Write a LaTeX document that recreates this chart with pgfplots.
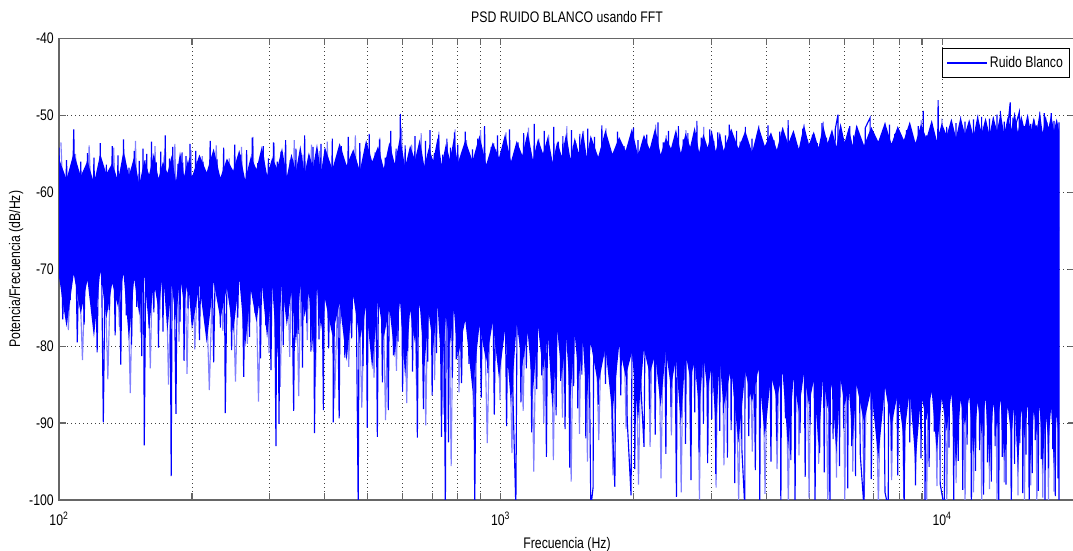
\documentclass[border=0pt]{standalone}
\usepackage{fontspec}
\setmainfont{Liberation Sans}[FakeStretch=0.8]
\usepackage{pgfplots}
\pgfplotsset{compat=1.18}
\definecolor{mblue}{rgb}{0,0,1}
\definecolor{mlight}{rgb}{0.5,0.5,1}
\definecolor{mgray}{rgb}{0.4,0.4,0.4}
\newcommand\mfont{\fontsize{11.5pt}{13pt}\selectfont}
\begin{document}
\begin{tikzpicture}
\begin{axis}[
  name=ax,
  scale only axis, width=762pt, height=346.1pt,
  xmode=log, xmin=100, xmax=20000, ymin=-100, ymax=-40,
  xtick={100,1000,10000},
  xticklabels={10\textsuperscript{2},10\textsuperscript{3},10\textsuperscript{4}},
  minor xtick={200,300,400,500,600,700,800,900,2000,3000,4000,5000,6000,7000,8000,9000},
  ytick={-100,-90,-80,-70,-60,-50,-40},
  yticklabels={-100,-90,-80,-70,-60,-50,-40},
  grid=both,
  major grid style={draw=black!75, line width=0.6pt, dash pattern=on 0.75pt off 2.25pt},
  minor grid style={draw=black!75, line width=0.6pt, dash pattern=on 0.75pt off 2.25pt},
  axis line style={draw=mgray, line width=0.9pt},
  tick style={draw=mgray, line width=0.9pt},
  major tick length=5pt, minor tick length=5pt,
  tick align=inside,
  tick label style={font=\mfont},
  xticklabel style={anchor=north, inner sep=0pt, yshift=-9pt},
  yticklabel style={anchor=east, inner sep=0pt, xshift=-3.75pt},
  label style={font=\mfont},
  title style={font=\mfont, at={(axis description cs:0.5,1.0466)}, anchor=center, yshift=-6pt},
  xlabel style={at={(axis description cs:0.5,-0.0955)}, anchor=center},
  ylabel style={at={(axis description cs:-0.0423,0.5)}, anchor=center},
  title={PSD RUIDO BLANCO usando FFT},
  xlabel={Frecuencia (Hz)},
  ylabel={Potencia/Frecuencia (dB/Hz)},
  legend style={at={(axis description cs:1,1)}, anchor=north east,
    xshift=-3.75pt, yshift=-7.1pt, draw=black, line width=0.6pt,
    fill=white, font=\mfont, inner xsep=3pt, inner ysep=4pt},
  legend image code/.code={\draw[#1] (0pt,0pt) -- (30pt,0pt);},
]

% lighter spectrum bins (anti-aliased traces)
\addplot[color=mlight, line width=0.85pt, forget plot] coordinates {
(101,-53.5) (105,-77.9) (109,-55.0) (113,-81.8) (117,-53.9) (121,-75.2) (125,-56.0) (129,-84.3) (133,-54.2) (137,-77.5) (141,-55.4) (145,-86.1) (149,-53.3) (153,-78.2) (157,-55.8) (161,-82.9) (165,-54.0) (169,-76.6) (173,-55.2) (177,-85.0) (183,-53.7) (187,-79.4) (191,-56.1) (195,-83.6) (199,-54.5)
(203,-80.4) (211,-55.3) (219,-85.7) (227,-53.9) (235,-78.0) (243,-55.6) (251,-84.6) (259,-54.1) (267,-79.7) (275,-52.8) (283,-87.2) (291,-55.4) (299,-80.9) (307,-53.6) (317,-85.3) (325,-54.8) (333,-81.4) (341,-53.2) (349,-86.5) (357,-55.1) (365,-79.2) (373,-53.8) (381,-84.0) (389,-54.6) (397,-82.3)
(405,-53.4) (421,-86.8) (437,-54.9) (453,-82.7) (469,-52.6) (485,-88.0) (501,-54.4) (517,-84.1) (533,-52.9) (549,-89.6) (565,-54.0) (581,-83.2) (597,-51.7) (613,-87.4) (629,-53.8) (645,-85.1) (661,-52.3) (677,-90.3) (693,-54.5) (709,-84.4) (725,-52.1) (741,-88.9) (757,-53.7) (773,-95.6) (789,-51.8)
(805,-86.0) (837,-53.2) (869,-89.2) (901,-51.9) (933,-92.6) (965,-53.6) (997,-87.0) (1029,-52.2) (1061,-93.9) (1093,-53.9) (1125,-88.4) (1157,-51.6) (1189,-96.3) (1221,-53.0) (1253,-90.0) (1285,-52.5) (1317,-94.8) (1349,-53.8) (1381,-89.3) (1413,-51.4) (1445,-97.6) (1477,-53.3) (1509,-91.4) (1541,-52.0) (1573,-95.0)
(1605,-53.4) (1669,-92.2) (1733,-51.7) (1797,-96.8) (1861,-53.0) (1925,-90.8) (1989,-52.3) (2053,-98.0) (2117,-53.7) (2181,-93.1) (2245,-51.2) (2309,-97.2) (2373,-52.6) (2437,-91.6) (2501,-53.5) (2565,-99.0) (2629,-51.9) (2693,-94.3) (2757,-52.8) (2821,-100) (2885,-51.5) (2949,-92.9) (3013,-53.1) (3077,-98.4) (3141,-52.4)
(3205,-95.5) (3333,-51.8) (3461,-100) (3589,-52.9) (3717,-93.7) (3845,-51.3) (3973,-99.2) (4101,-53.0) (4229,-96.0) (4357,-51.6) (4485,-101) (4613,-52.7) (4741,-94.2) (4869,-51.1) (4997,-99.8) (5125,-52.4) (5253,-95.3) (5381,-50.8) (5509,-101) (5637,-52.2) (5765,-97.1) (5893,-51.5) (6021,-100) (6149,-52.9) (6277,-96.3)
(6405,-51.4) (6661,-99.6) (6917,-52.5) (7173,-101) (7429,-50.9) (7685,-97.4) (7941,-52.1) (8197,-101) (8453,-51.2) (8709,-96.6) (8965,-50.6) (9221,-101) (9477,-51.9) (9733,-98.2) (9989,-50.4) (10245,-101) (10501,-51.6) (10757,-97.8) (11013,-50.1) (11269,-101) (11525,-51.0) (11781,-99.0) (12037,-49.9) (12293,-101) (12549,-50.7)
(12805,-98.6) (13061,-50.2) (13317,-101) (13573,-49.8) (13829,-97.7) (14085,-50.5) (14341,-101) (14597,-49.6) (14853,-99.4) (15109,-50.3) (15365,-101) (15621,-49.9) (15877,-98.1) (16133,-50.6) (16389,-101) (16645,-49.5) (16901,-99.7) (17157,-50.2) (17413,-101) (17669,-50.0) (17925,-98.9) (18181,-50.8)
};

% dense core of the spectrum, where the bins overlap completely:
% upper half (ragged top edge down to -65 dB/Hz)
\addplot[fill=mblue, draw=none, forget plot] coordinates {
(100,-55.6) (104,-58.3) (108,-54.8) (112,-57.9) (116,-55.9) (120,-58.8) (124,-55.0) (128,-57.6) (132,-56.2) (136,-58.5) (140,-54.6) (144,-57.8) (148,-55.4) (152,-59.0) (156,-55.8) (160,-57.7) (164,-54.9) (168,-58.2) (172,-56.0) (176,-57.5) (180,-55.2) (184,-58.6) (188,-54.7) (192,-57.9) (196,-55.7)
(200,-58.0) (208,-55.1) (216,-57.4) (224,-54.3) (232,-58.1) (240,-55.6) (248,-57.2) (256,-54.5) (264,-58.4) (272,-55.3) (280,-57.0) (288,-54.0) (296,-57.8) (304,-55.5) (312,-56.9) (320,-54.2) (328,-58.0) (336,-55.0) (344,-57.3) (352,-53.9) (360,-57.6) (368,-54.8) (376,-56.8) (384,-53.7) (392,-57.5)
(400,-54.1) (416,-57.0) (432,-53.6) (448,-56.5) (464,-54.4) (480,-57.2) (496,-53.2) (512,-56.0) (528,-54.0) (544,-56.9) (560,-53.5) (576,-56.3) (592,-52.8) (608,-56.7) (624,-53.9) (640,-55.8) (656,-53.1) (672,-56.6) (688,-54.2) (704,-55.9) (720,-52.9) (736,-56.4) (752,-53.7) (768,-55.7) (784,-53.0)
(800,-56.2) (832,-53.2) (864,-55.9) (896,-52.6) (928,-56.4) (960,-53.5) (992,-55.5) (1024,-52.4) (1056,-56.0) (1088,-53.3) (1120,-55.2) (1152,-52.1) (1184,-55.8) (1216,-53.0) (1248,-55.0) (1280,-52.7) (1312,-56.1) (1344,-53.4) (1376,-55.3) (1408,-52.3) (1440,-55.7) (1472,-52.9) (1504,-54.9) (1536,-52.0) (1568,-55.4)
(1600,-52.6) (1664,-55.4) (1728,-51.9) (1792,-55.0) (1856,-52.8) (1920,-54.6) (1984,-51.7) (2048,-55.2) (2112,-52.5) (2176,-54.4) (2240,-51.6) (2304,-55.1) (2368,-52.9) (2432,-54.3) (2496,-51.8) (2560,-54.9) (2624,-52.3) (2688,-54.1) (2752,-51.5) (2816,-54.8) (2880,-52.4) (2944,-54.2) (3008,-51.9) (3072,-54.7) (3136,-52.2)
(3200,-54.6) (3328,-51.7) (3456,-54.3) (3584,-52.0) (3712,-54.8) (3840,-51.4) (3968,-54.0) (4096,-52.2) (4224,-54.5) (4352,-51.5) (4480,-53.7) (4608,-51.9) (4736,-54.4) (4864,-51.2) (4992,-53.8) (5120,-52.1) (5248,-54.2) (5376,-51.3) (5504,-53.6) (5632,-51.8) (5760,-54.1) (5888,-51.0) (6016,-53.5) (6144,-51.6) (6272,-53.9)
(6400,-51.2) (6656,-53.9) (6912,-51.5) (7168,-53.4) (7424,-50.9) (7680,-53.7) (7936,-51.4) (8192,-53.2) (8448,-50.8) (8704,-53.6) (8960,-51.1) (9216,-53.0) (9472,-50.6) (9728,-53.3) (9984,-51.0) (10240,-52.6) (10496,-50.4) (10752,-52.9) (11008,-50.2) (11264,-52.4) (11520,-50.5) (11776,-52.7) (12032,-50.0) (12288,-52.3) (12544,-50.3)
(12800,-52.5) (13056,-50.1) (13312,-52.0) (13568,-49.7) (13824,-52.4) (14080,-50.2) (14336,-51.8) (14592,-49.6) (14848,-52.2) (15104,-50.0) (15360,-51.7) (15616,-49.8) (15872,-52.1) (16128,-50.3) (16384,-51.9) (16640,-49.5) (16896,-52.3) (17152,-50.1) (17408,-51.6) (17664,-49.9) (17920,-52.0) (18176,-50.4) (18400,-52.0)
(18400,-65) (100,-65)
};
% lower half (-65 dB/Hz down to the ragged bottom edge)
\addplot[fill=mblue, draw=none, forget plot] coordinates {
(100,-71.0) (104,-77.5) (108,-70.6) (112,-75.8) (116,-71.4) (120,-78.9) (124,-70.2) (128,-76.4) (132,-71.8) (136,-74.9) (140,-70.5) (144,-79.2) (148,-71.2) (152,-76.0) (156,-70.8) (160,-77.8) (164,-71.6) (168,-75.3) (172,-70.4) (176,-78.1) (180,-71.9) (184,-76.7) (188,-70.9) (192,-74.6) (196,-71.3)
(200,-77.9) (208,-72.0) (216,-79.6) (224,-71.6) (232,-76.5) (240,-72.4) (248,-78.3) (256,-71.3) (264,-80.1) (272,-72.7) (280,-76.9) (288,-71.9) (296,-79.0) (304,-72.2) (312,-81.4) (320,-71.7) (328,-77.4) (336,-72.9) (344,-79.8) (352,-72.1) (360,-76.2) (368,-73.0) (376,-80.6) (384,-72.3) (392,-78.0)
(400,-73.8) (416,-78.6) (432,-74.4) (448,-81.9) (464,-73.5) (480,-79.3) (496,-74.8) (512,-83.0) (528,-73.9) (544,-78.9) (560,-75.0) (576,-81.4) (592,-74.1) (608,-84.1) (624,-75.3) (640,-79.6) (656,-74.5) (672,-82.7) (688,-75.8) (704,-80.2) (720,-74.7) (736,-83.8) (752,-76.1) (768,-79.9) (784,-75.2)
(800,-81.6) (832,-76.6) (864,-85.8) (896,-77.3) (928,-82.0) (960,-76.9) (992,-84.2) (1024,-77.8) (1056,-87.6) (1088,-77.0) (1120,-82.6) (1152,-78.2) (1184,-86.0) (1216,-77.5) (1248,-83.4) (1280,-78.6) (1312,-88.1) (1344,-77.9) (1376,-83.9) (1408,-79.0) (1440,-86.8) (1472,-78.4) (1504,-84.4) (1536,-79.3) (1568,-87.7)
(1600,-79.6) (1664,-85.1) (1728,-80.2) (1792,-88.9) (1856,-79.9) (1920,-84.0) (1984,-80.8) (2048,-89.7) (2112,-80.4) (2176,-83.6) (2240,-81.1) (2304,-87.9) (2368,-80.6) (2432,-85.4) (2496,-81.6) (2560,-90.2) (2624,-80.9) (2688,-84.3) (2752,-82.0) (2816,-88.4) (2880,-81.3) (2944,-86.0) (3008,-82.4) (3072,-90.6) (3136,-81.8)
(3200,-88.0) (3328,-82.7) (3456,-92.6) (3584,-83.3) (3712,-87.3) (3840,-82.9) (3968,-91.9) (4096,-83.8) (4224,-86.9) (4352,-83.4) (4480,-93.4) (4608,-84.2) (4736,-88.5) (4864,-83.6) (4992,-87.6) (5120,-84.5) (5248,-92.9) (5376,-84.0) (5504,-88.1) (5632,-84.9) (5760,-94.0) (5888,-84.3) (6016,-87.8) (6144,-85.2) (6272,-92.4)
(6400,-85.0) (6656,-89.9) (6912,-85.6) (7168,-94.6) (7424,-85.3) (7680,-90.4) (7936,-86.1) (8192,-92.1) (8448,-85.7) (8704,-95.2) (8960,-86.4) (9216,-89.6) (9472,-85.9) (9728,-93.8) (9984,-86.8) (10240,-91.0) (10496,-86.2) (10752,-95.5) (11008,-87.0) (11264,-90.3) (11520,-86.5) (11776,-94.1) (12032,-87.3) (12288,-91.4) (12544,-86.7)
(12800,-95.6) (13056,-87.4) (13312,-90.8) (13568,-86.9) (13824,-94.9) (14080,-87.8) (14336,-91.7) (14592,-87.2) (14848,-96.2) (15104,-88.1) (15360,-92.0) (15616,-87.5) (15872,-95.3) (16128,-88.4) (16384,-91.5) (16640,-87.7) (16896,-96.0) (17152,-88.6) (17408,-92.4) (17664,-87.9) (17920,-95.8) (18176,-88.8) (18400,-93.0)
(18400,-64.5) (100,-64.5)
};

% PSD estimate
\addplot[color=mblue, line width=0.85pt] coordinates {
(100,-54.2) (102,-76.5) (104,-55.8) (106,-74.0) (108,-51.8) (110,-79.5) (112,-56.0) (114,-77.2) (116,-54.9) (118,-73.8) (120,-55.5) (122,-80.8) (124,-53.6) (126,-89.9) (128,-56.4) (130,-75.3) (132,-54.0) (134,-78.6) (136,-55.2) (138,-82.4) (140,-53.1) (142,-76.0) (144,-56.8) (146,-79.8) (148,-54.6) (150,-74.9) (152,-55.9) (154,-81.3) (155,-54.3) (156,-92.9) (158,-55.0) (160,-77.7) (162,-53.4) (164,-75.6) (166,-56.1) (168,-80.2) (170,-54.7) (172,-78.1) (174,-52.6) (176,-74.4) (178,-55.6) (179.5,-96.9) (181,-54.1) (184,-88.8) (186,-56.3) (188,-76.8) (190,-54.8) (192,-81.9) (194,-55.3) (196,-75.1) (198,-53.7)
(200,-76.9) (204,-54.6) (208,-79.2) (212,-56.0) (216,-75.4) (220,-53.3) (224,-82.1) (228,-55.7) (232,-77.6) (236,-54.2) (238,-88.7) (242,-56.4) (246,-80.5) (250,-53.8) (254,-76.3) (258,-55.1) (262,-84.0) (266,-54.5) (270,-78.8) (274,-52.9) (278,-75.7) (282,-56.2) (286,-81.6) (290,-54.0) (294,-77.3) (298,-55.6) (302,-83.1) (306,-53.5) (310,-93.0) (312,-56.0) (315,-90.1) (318,-54.7) (322,-79.9) (326,-53.2) (330,-76.1) (334,-55.8) (340,-88.4) (344,-54.3) (348,-78.4) (352,-55.2) (356,-82.8) (360,-52.6) (364,-77.0) (368,-55.9) (372,-80.7) (376,-54.1) (379,-91.3) (384,-56.3) (388,-79.1) (392,-53.7) (397,-88.3)
(400,-54.4) (408,-80.3) (416,-53.0) (418,-89.9) (424,-55.7) (431,-89.4) (436,-54.0) (444,-81.5) (452,-52.8) (460,-79.0) (468,-55.3) (476,-101) (480,-53.6) (488,-82.6) (494,-55.0) (499,-90.6) (504,-52.4) (512,-80.1) (520,-54.8) (526,-91.8) (532,-53.1) (540,-84.7) (548,-55.5) (557,-88.3) (564,-52.0) (572,-81.2) (580,-54.3) (586,-79.4) (593,-49.8) (600,-85.9) (608,-53.9) (616,-80.6) (624,-55.2) (632,-83.3) (640,-52.7) (648,-91.9) (656,-54.6) (669,-88.2) (676,-53.3) (684,-82.0) (692,-51.9) (700,-86.4) (708,-54.9) (716,-80.9) (724,-52.5) (735,-91.8) (740,-55.1) (750,-101) (756,-53.0) (762,-92.5) (770,-54.2) (778,-84.1) (786,-52.2) (794,-81.7)
(800,-53.8) (816,-84.8) (832,-52.1) (848,-82.3) (864,-54.4) (874,-101) (888,-53.0) (904,-86.7) (920,-51.4) (936,-83.5) (952,-54.1) (968,-88.9) (984,-52.6) (1000,-81.6) (1016,-54.7) (1032,-90.4) (1048,-51.8) (1064,-84.2) (1083,-101) (1096,-53.5) (1112,-87.3) (1128,-52.3) (1144,-82.9) (1160,-54.2) (1176,-91.2) (1192,-51.1) (1208,-85.6) (1224,-53.7) (1240,-83.8) (1256,-52.0) (1270,-94.4) (1288,-54.5) (1304,-86.1) (1320,-51.5) (1336,-89.0) (1352,-53.4) (1368,-84.5) (1384,-52.7) (1400,-90.8) (1416,-54.0) (1434,-95.8) (1448,-51.9) (1464,-85.2) (1480,-53.6) (1496,-88.1) (1512,-52.4) (1528,-83.7) (1544,-54.3) (1560,-92.0) (1576,-51.7) (1592,-86.9)
(1601,-101) (1620,-98.4) (1632,-52.8) (1664,-87.6) (1696,-51.3) (1728,-84.9) (1760,-53.9) (1792,-90.3) (1815,-98.3) (1840,-52.1) (1872,-86.4) (1904,-54.0) (1936,-89.7) (1975,-99.4) (2000,-51.6) (2013,-96.0) (2048,-53.2) (2080,-85.5) (2113,-93.1) (2144,-52.5) (2176,-88.2) (2208,-54.2) (2240,-91.5) (2272,-50.9) (2304,-86.8) (2336,-53.5) (2368,-94.0) (2400,-52.0) (2432,-87.9) (2464,-53.8) (2502,-99.6) (2528,-51.4) (2560,-89.3) (2592,-53.1) (2624,-92.7) (2656,-52.3) (2700,-97.4) (2720,-54.1) (2752,-88.6) (2784,-50.7) (2816,-93.8) (2848,-52.9) (2880,-90.1) (2912,-53.6) (2944,-95.2) (2976,-51.8) (3008,-89.5) (3040,-53.3) (3072,-96.6) (3104,-52.2) (3136,-91.0) (3168,-53.9)
(3200,-88.7) (3232,-52.6) (3264,-94.5) (3296,-51.2) (3328,-90.9) (3360,-53.7) (3392,-97.8) (3424,-52.0) (3456,-89.8) (3488,-53.4) (3520,-93.4) (3574,-101) (3584,-51.5) (3648,-91.7) (3712,-53.0) (3776,-96.1) (3840,-52.4) (3864,-101) (3904,-53.8) (3968,-90.5) (4032,-51.3) (4096,-95.0) (4160,-53.2) (4224,-92.3) (4288,-52.1) (4313,-101) (4352,-53.5) (4416,-89.4) (4480,-50.6) (4544,-94.8) (4600,-52.8) (4644,-101) (4704,-53.9) (4768,-91.3) (4832,-51.7) (4896,-97.0) (4960,-53.1) (5024,-90.2) (5088,-52.5) (5155,-101) (5216,-53.6) (5280,-93.9) (5344,-51.0) (5408,-96.4) (5472,-52.9) (5572,-101) (5600,-53.3) (5664,-92.1) (5728,-51.8) (5809,-49.9) (5856,-95.6) (5920,-52.7) (5984,-90.7) (6048,-53.4) (6112,-98.5) (6176,-51.4) (6240,-93.0) (6304,-52.6) (6368,-96.9)
(6400,-53.0) (6528,-94.2) (6653,-101) (6700,-51.6) (6871,-50.3) (6912,-97.3) (7040,-52.8) (7168,-91.9) (7296,-53.2) (7424,-99.0) (7551,-101) (7600,-51.2) (7680,-93.6) (7808,-52.4) (7936,-96.8) (8064,-53.5) (8204,-101) (8300,-51.9) (8448,-92.5) (8576,-52.9) (8704,-98.1) (8832,-51.4) (8960,-94.6) (9062,-49.4) (9150,-101) (9216,-52.6) (9344,-95.7) (9472,-53.1) (9600,-91.1) (9795,-48.0) (9900,-97.9) (10114,-101) (10240,-51.5) (10368,-93.2) (10496,-52.8) (10624,-100) (10752,-51.0) (10880,-94.9) (11008,-52.3) (11136,-98.7) (11264,-50.8) (11392,-92.8) (11520,-52.0) (11648,-101) (11776,-50.5) (11904,-96.2) (12032,-51.7) (12160,-93.5) (12288,-50.2) (12416,-99.3) (12544,-51.3) (12672,-95.1)
(12800,-50.4) (12928,-97.6) (13056,-51.2) (13184,-93.0) (13312,-49.9) (13440,-100) (13548,-49.4) (13680,-94.4) (13824,-50.8) (13952,-98.0) (14080,-51.5) (14265,-48.3) (14350,-101) (14464,-50.3) (14592,-95.3) (14720,-51.0) (14950,-49.6) (15000,-92.6) (15104,-50.6) (15232,-99.1) (15360,-51.4) (15488,-94.1) (15616,-50.1) (15744,-101) (15872,-51.1) (16000,-96.5) (16128,-50.5) (16256,-92.2) (16384,-51.3) (16512,-98.8) (16640,-50.0) (16768,-94.7) (17030,-49.7) (17100,-101) (17280,-50.9) (17408,-95.9) (17670,-49.7) (17800,-93.4) (17920,-50.7) (18048,-99.5) (18176,-51.0) (18304,-97.2) (18400,-50.9) (18400,-100)
};
\addlegendentry{Ruido Blanco}
\end{axis}
\pgfresetboundingbox
\useasboundingbox ([xshift=-44.25pt, yshift=-38.25pt]ax.south west) rectangle ([xshift=-1.5pt, yshift=28.9pt]ax.north east);
\end{tikzpicture}
\end{document}
